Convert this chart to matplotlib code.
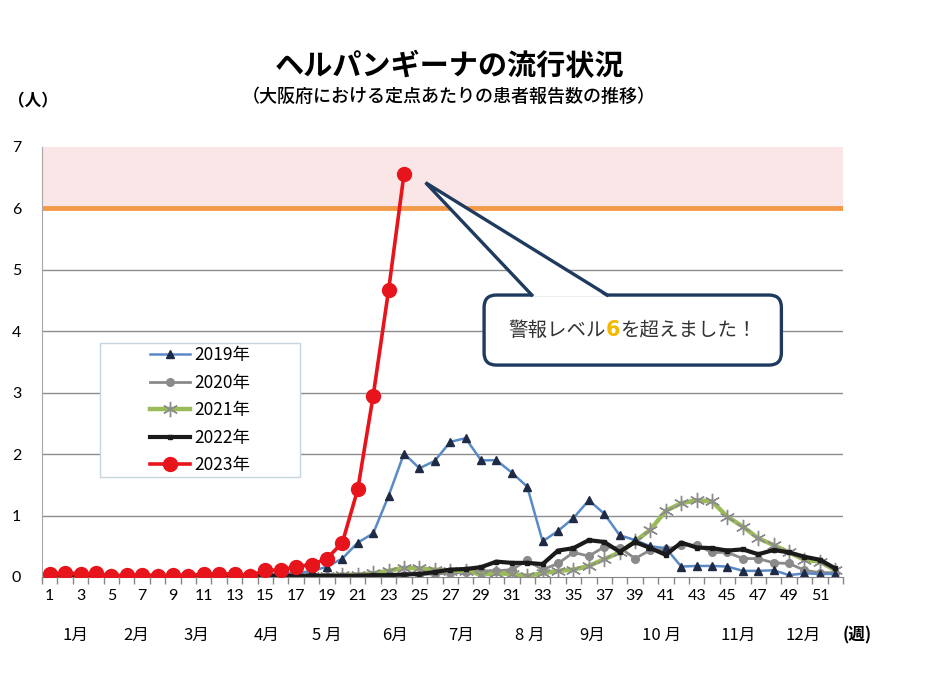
import matplotlib
matplotlib.use("Agg")
import matplotlib.pyplot as plt
from matplotlib.patches import FancyBboxPatch, Polygon, Rectangle
from matplotlib.lines import Line2D
from matplotlib.offsetbox import TextArea, HPacker, AnnotationBbox
import matplotlib.transforms as mtransforms

plt.rcParams['font.family'] = ['Noto Sans CJK JP', 'DejaVu Sans']

# ---------------- data ----------------
weeks = list(range(1, 53))
weeks_2023 = list(range(1, 25))

y2019 = [0.03, 0.03, 0.02, 0.03, 0.02, 0.02, 0.03, 0.02, 0.02, 0.02, 0.03, 0.03, 0.03,
         0.03, 0.05, 0.05, 0.07, 0.09, 0.17, 0.30, 0.56, 0.71, 1.32, 2.01, 1.77, 1.89,
         2.20, 2.26, 1.90, 1.90, 1.70, 1.47, 0.58, 0.75, 0.96, 1.25, 1.03, 0.68, 0.60,
         0.50, 0.47, 0.17, 0.18, 0.18, 0.17, 0.10, 0.10, 0.11, 0.03, 0.06, 0.05, 0.05]
y2020 = [0.04, 0.04, 0.03, 0.03, 0.03, 0.02, 0.02, 0.02, 0.02, 0.01, 0.01, 0.01, 0.01,
         0.01, 0.01, 0.01, 0.01, 0.01, 0.02, 0.02, 0.02, 0.03, 0.03, 0.04, 0.04, 0.05,
         0.06, 0.08, 0.10, 0.10, 0.12, 0.27, 0.12, 0.22, 0.40, 0.34, 0.49, 0.48, 0.30,
         0.44, 0.45, 0.52, 0.52, 0.40, 0.40, 0.30, 0.30, 0.23, 0.22, 0.11, 0.07, 0.07]
y2021 = [0.01, 0.01, 0.01, 0.01, 0.01, 0.01, 0.01, 0.01, 0.01, 0.01, 0.01, 0.01, 0.01,
         0.01, 0.01, 0.01, 0.02, 0.02, 0.02, 0.03, 0.04, 0.06, 0.10, 0.15, 0.14, 0.12,
         0.10, 0.10, 0.04, 0.06, 0.05, 0.02, 0.06, 0.10, 0.12, 0.18, 0.29, 0.40, 0.58,
         0.77, 1.08, 1.20, 1.25, 1.23, 0.98, 0.82, 0.63, 0.52, 0.40, 0.28, 0.25, 0.11]
y2022 = [0.01, 0.01, 0.01, 0.01, 0.01, 0.01, 0.01, 0.01, 0.01, 0.01, 0.01, 0.01, 0.01,
         0.01, 0.02, 0.02, 0.02, 0.02, 0.02, 0.02, 0.02, 0.03, 0.03, 0.04, 0.05, 0.08,
         0.12, 0.13, 0.16, 0.25, 0.23, 0.23, 0.21, 0.43, 0.47, 0.60, 0.57, 0.41, 0.57,
         0.47, 0.36, 0.56, 0.48, 0.47, 0.43, 0.45, 0.37, 0.44, 0.40, 0.33, 0.28, 0.14]
y2023 = [0.05, 0.07, 0.05, 0.06, 0.02, 0.03, 0.04, 0.02, 0.03, 0.02, 0.05, 0.05, 0.05,
         0.02, 0.11, 0.11, 0.17, 0.20, 0.30, 0.56, 1.43, 2.95, 4.67, 6.56]

series_labels = ["2019年", "2020年", "2021年", "2022年", "2023年"]
week_ticks = list(range(1, 52, 2))
month_labels = ["1月", "2月", "3月", "4月", "5 月", "6月", "7月", "8 月", "9月", "10 月", "11月", "12月"]
month_pos = [2.7, 6.6, 10.5, 15.1, 19.0, 23.4, 27.7, 32.2, 36.2, 40.7, 45.7, 49.9]
alert_level = 6
y_ticks = list(range(0, 8))

# ---------------- figure ----------------
fig = plt.figure(figsize=(9.34, 6.75), dpi=100)
ax = fig.add_axes([42 / 934, 98 / 675, 801 / 934, 430 / 675])

ax.set_xlim(0.5, 52.5)
ax.set_ylim(0, 7)

# alert band and line
ax.axhspan(alert_level, 7, color="#FAE6E6", zorder=0, lw=0)
ax.axhline(alert_level, color="#F39A4A", lw=3.5, zorder=2)

# grid
for v in y_ticks[1:alert_level]:
    ax.axhline(v, color="#8C8C8C", lw=1.0, zorder=1)

# series
ax.plot(weeks, y2019, color="#5A8AC6", lw=1.8, marker="^", ms=5.5,
        mfc="#1F2A44", mec="#1F2A44", label=series_labels[0], zorder=4)
ax.plot(weeks, y2020, color="#8A8A8A", lw=2.0, marker="o", ms=5.5,
        mfc="#8A8A8A", mec="#8A8A8A", label=series_labels[1], zorder=3)
ax.plot(weeks, y2021, color="#9BBB59", lw=3.2, marker=(6, 2, 0), ms=11,
        mec="#8C8C8C", mew=1.0, label=series_labels[2], zorder=3)
ax.plot(weeks, y2022, color="#1A1A1A", lw=3.0, marker="s", ms=3,
        mfc="#1A1A1A", mec="#1A1A1A", label=series_labels[3], zorder=4)
ax.plot(weeks_2023, y2023, color="#E8141B", lw=2.6, marker="o", ms=10,
        mfc="#E8141B", mec="#E8141B", label=series_labels[4], zorder=6)

# axes styling
for s in ["top", "right"]:
    ax.spines[s].set_visible(False)
ax.spines["left"].set_color("#A6A6A6")
ax.spines["bottom"].set_color("#868686")
ax.spines["bottom"].set_zorder(5)

ax.set_yticks(y_ticks)
ax.set_yticklabels([str(v) for v in y_ticks], fontsize=11.5, family=["Lato", "DejaVu Sans"])
ax.tick_params(axis="y", length=0, pad=15)

ax.set_xticks(week_ticks)
ax.set_xticklabels([str(w) for w in week_ticks], fontsize=11.5, family=["Lato", "DejaVu Sans"])
ax.set_xticks([w + 0.5 for w in range(0, 53)], minor=True)
ax.tick_params(axis="x", which="major", length=0, pad=9)
ax.tick_params(axis="x", which="minor", length=5, color="#868686", width=1)

# month labels
trans = mtransforms.blended_transform_factory(ax.transData, ax.transAxes)
for m, p in zip(month_labels, month_pos):
    ax.text(p, -0.137, m, transform=trans, ha="center", va="center", fontsize=12)
ax.text(53.4, -0.137, "(週)", transform=trans, ha="center", va="center",
        fontsize=12, fontweight="bold")

# legend with custom frame
ax.add_patch(Rectangle((0.0724, 0.2326), 0.2497, 0.3116, transform=ax.transAxes,
                       facecolor="white", edgecolor="#C5D5DF", lw=1.0, zorder=7))
leg = ax.legend(loc="center", bbox_to_anchor=(0.197, 0.388), frameon=False,
                fontsize=12.5, handlelength=2.3, handletextpad=0.25, labelspacing=0.55,
                borderpad=0)
leg.set_zorder(8)

# callout
navy = "#1F3A5F"
bx0, bx1, by0, by1 = 29.2, 48.5, 3.45, 4.59
tip = (25.4, 6.42)
base0, base1 = 32.3, 37.2
box = FancyBboxPatch((bx0, by0), bx1 - bx0, by1 - by0,
                     boxstyle="round,pad=0,rounding_size=0.8", mutation_aspect=0.25,
                     fc="white", ec=navy, lw=2.4, zorder=9)
ax.add_patch(box)
ax.add_patch(Polygon([(base0 + 0.05, by1 - 0.03), tip, (base1 - 0.05, by1 - 0.03)],
                     closed=True, fc="white", ec="none", zorder=10))
ax.add_line(Line2D([base0, tip[0], base1], [by1, tip[1], by1], color=navy, lw=2.4,
                   solid_joinstyle="miter", zorder=11))

tp = dict(fontsize=14, color="#333333")
parts = [TextArea("警報レベル", textprops=tp),
         TextArea("6", textprops=dict(fontsize=15, color="#F5B800", fontweight="bold",
                                       family=["DejaVu Sans"])),
         TextArea("を超えました！", textprops=tp)]
hp = HPacker(children=parts, align="baseline", pad=0, sep=0)
ab = AnnotationBbox(hp, ((bx0 + bx1) / 2, (by0 + by1) / 2), xycoords="data",
                    frameon=False, zorder=12)
ax.add_artist(ab)

# titles
fig.text(449 / 934, 1 - 66 / 675, "ヘルパンギーナの流行状況", ha="center", va="center",
         fontsize=21, fontweight="bold")
fig.text(449 / 934, 1 - 97 / 675, "（大阪府における定点あたりの患者報告数の推移）",
         ha="center", va="center", fontsize=13, fontweight="medium")
fig.text(33 / 934, 1 - 101 / 675, "（人）", ha="center", va="center", fontsize=12,
         fontweight="bold")

fig.savefig("out.png", dpi=100)
